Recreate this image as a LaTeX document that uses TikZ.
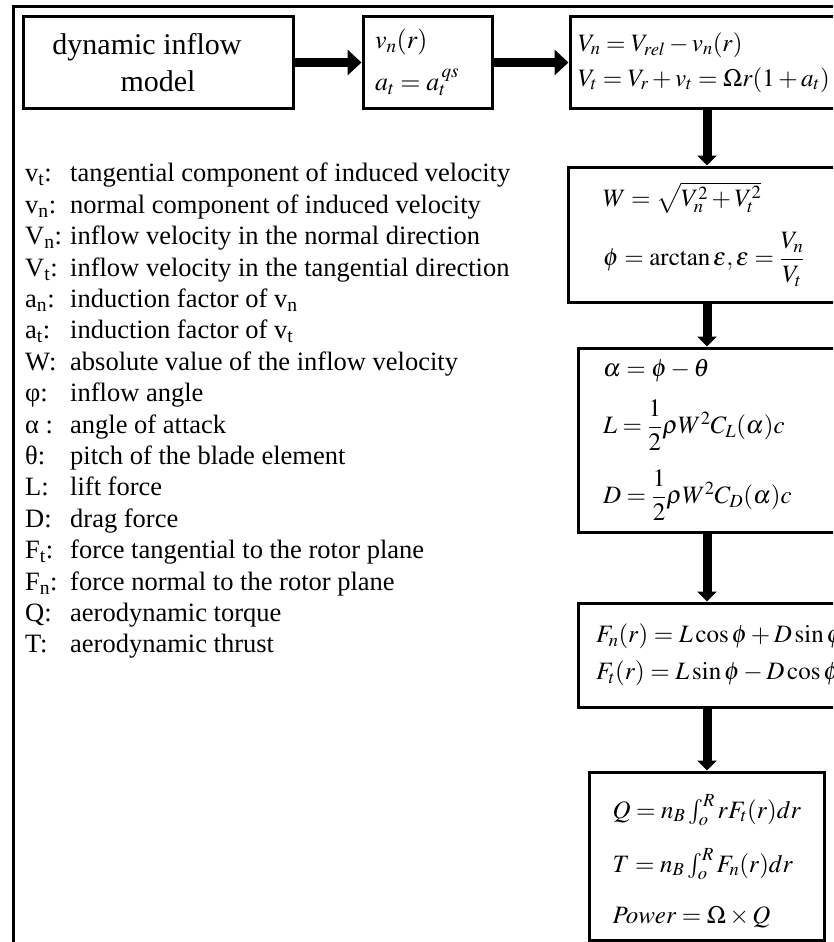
\documentclass[tikz,border=0pt]{standalone}
\usepackage{amsmath}
\usepackage{mathptmx}
\usepackage[no-math]{fontspec}
\setmainfont{Liberation Serif}
\usetikzlibrary{positioning, arrows.meta}

\begin{document}
\begin{tikzpicture}[x=1pt, y=-1pt,
    box/.style={draw, line width=3pt, inner ysep=0pt, align=left,
                execute at begin node={\lineskiplimit=-100pt}},
    flow/.style={line width=9pt, -{Triangle[width=25pt,length=14pt]}},
    down/.style={line width=9pt, -{Triangle[width=19pt,length=10pt]}}]
      \useasboundingbox (0,0) rectangle (833,942);
      \clip (0,0) rectangle (833,942);
      % outer frame, cut off at the right and bottom
      \draw[line width=3pt] (13,7) rectangle (848,960);

      % top row
      \node[box, align=center, minimum width=270pt, minimum height=91pt,
            font=\fontsize{30}{37}\selectfont] (model) at (158,62.5) {dynamic inflow\hspace*{22pt}\\model};
      \node[box, text width=105pt, inner xsep=12pt, minimum height=91pt,
            font=\fontsize{26}{42}\selectfont] (induced) at (427.5,62.5)
            {$v_n(r)$\\$a_t = a_t^{\,qs}$};
      \node[box, text width=258pt, inner xsep=8pt, minimum height=91pt,
            font=\fontsize{25}{35}\selectfont] (velo) at (707,62.5)
            {\mbox{$V_n = V_{rel} - v_n(r)$}\\\mbox{$V_t = V_r + v_t = \Omega r(1+a_t)$}};

      % right column
      \node[box, text width=208pt, inner xsep=35pt, minimum height=135pt,
            font=\fontsize{25}{59}\selectfont] (inflow) at (707,234.5)
            {\mbox{$W = \sqrt{V_n^2 + V_t^2}$}\\\mbox{$\phi = \arctan\varepsilon, \varepsilon = \dfrac{V_n}{V_t}$}};
      \node[box, text width=208pt, inner xsep=25pt, minimum height=184pt,
            font=\fontsize{25}{57}\selectfont] (aero) at (707,440)
            {$\alpha = \phi - \theta$\\\mbox{$L = \dfrac{1}{2}\rho W^2 C_L(\alpha)c$}\\[13pt]\mbox{$D = \dfrac{1}{2}\rho W^2 C_D(\alpha)c$}};
      \node[box, text width=222pt, inner xsep=18pt, minimum height=104pt,
            font=\fontsize{25}{37}\selectfont] (force) at (707,655)
            {\mbox{$F_n(r) = L\cos\phi + D\sin\phi$}\\\mbox{$F_t(r) = L\sin\phi - D\cos\phi$}};
      \node[box, text width=189pt, inner xsep=23pt, minimum height=168pt,
            font=\fontsize{25}{54}\selectfont] (power) at (707,856)
            {\rule{0pt}{34pt}\mbox{$Q = n_B\int_o^R rF_t(r)dr$}\\\mbox{$T = n_B\int_o^R F_n(r)dr$}\\[-3pt]\mbox{$Power = \Omega\times Q$}};

      \draw[flow] (model) -- (induced);
      \draw[flow] (induced) -- (velo);
      \draw[down] (velo) -- (inflow);
      \draw[down] (inflow) -- (aero);
      \draw[down] (aero) -- (force);
      \draw[down] (force) -- (power);

      % symbols
      \node[anchor=north west, inner sep=0pt, align=left,
            font=\fontsize{26.5}{31.4}\selectfont] (legend) at (25,163) {%
        \makebox[45pt][l]{v\textsubscript{t}:}tangential component of induced velocity\\
        \makebox[45pt][l]{v\textsubscript{n}:}normal component of induced velocity\\
        \makebox[45pt][l]{V\textsubscript{n}:}inflow velocity in the normal direction\\
        \makebox[45pt][l]{V\textsubscript{t}:}inflow velocity in the tangential direction\\
        \makebox[45pt][l]{a\textsubscript{n}:}induction factor of v\textsubscript{n}\\
        \makebox[45pt][l]{a\textsubscript{t}:}induction factor of v\textsubscript{t}\\
        \makebox[45pt][l]{W:}absolute value of the inflow velocity\\
        \makebox[45pt][l]{φ:}inflow angle\\
        \makebox[45pt][l]{α :}angle of attack\\
        \makebox[45pt][l]{θ:}pitch of the blade element\\
        \makebox[45pt][l]{L:}lift force\\
        \makebox[45pt][l]{D:}drag force\\
        \makebox[45pt][l]{F\textsubscript{t}:}force tangential to the rotor plane\\
        \makebox[45pt][l]{F\textsubscript{n}:}force normal to the rotor plane\\
        \makebox[45pt][l]{Q:}aerodynamic torque\\
        \makebox[45pt][l]{T:}aerodynamic thrust};
    \end{tikzpicture}
\end{document}
